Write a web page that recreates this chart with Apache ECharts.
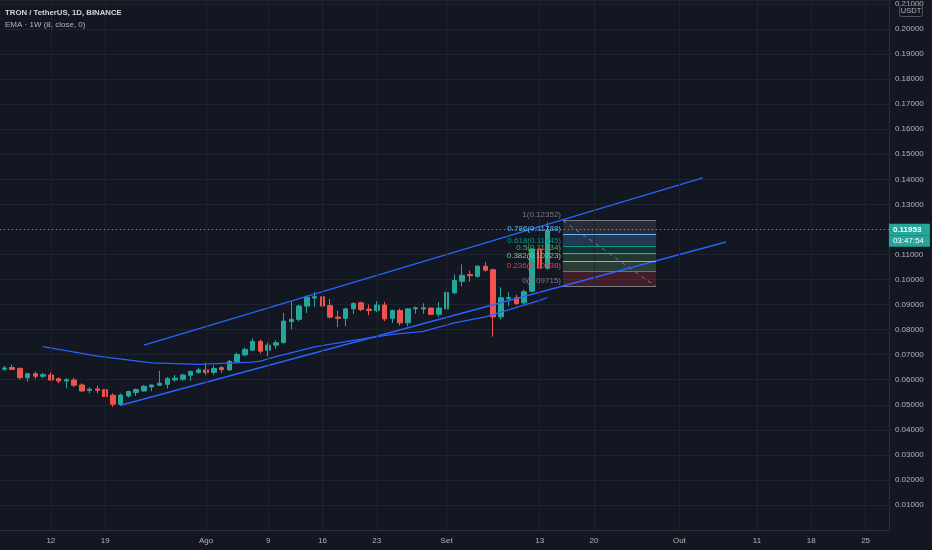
<!DOCTYPE html>
<html><head><meta charset="utf-8">
<script src="https://cdn.jsdelivr.net/npm/echarts@6/dist/echarts.min.js"></script>
<style>html,body{margin:0;padding:0;background:#131722;}#c{width:932px;height:550px;}</style>
</head><body><div id="c"></div>
<script>
// ---- data ----
const candleStart = '2021-07-06';
const opens  = [0.0642,0.0649,0.0645,0.0608,0.0624,0.0614,0.0619,0.0604,0.0595,0.0599,0.0579,0.0557,0.0563,0.0560,0.0538,0.0502,0.0535,0.0549,0.0555,0.0571,0.0578,0.0582,0.0599,0.0602,0.0618,0.0629,0.0639,0.0629,0.0648,0.0639,0.0672,0.0699,0.0718,0.0753,0.0718,0.0738,0.0748,0.0832,0.0841,0.0894,0.0926,0.0931,0.0896,0.0850,0.0845,0.0883,0.0907,0.0882,0.0876,0.0898,0.0845,0.0876,0.0827,0.0883,0.0882,0.0886,0.0861,0.0883,0.0947,0.0993,0.1020,0.1013,0.1053,0.1039,0.0851,0.0923,0.0927,0.0907,0.0953,0.1122,0.1045];
const closes = [0.0647,0.0641,0.0608,0.0624,0.0614,0.0620,0.0599,0.0595,0.0600,0.0578,0.0555,0.0562,0.0558,0.0533,0.0502,0.0539,0.0553,0.0561,0.0574,0.0579,0.0586,0.0604,0.0606,0.0619,0.0633,0.0639,0.0629,0.0645,0.0640,0.0673,0.0701,0.0721,0.0753,0.0714,0.0738,0.0748,0.0834,0.0841,0.0894,0.0929,0.0931,0.0894,0.0850,0.0845,0.0883,0.0904,0.0880,0.0876,0.0898,0.0843,0.0876,0.0827,0.0883,0.0887,0.0887,0.0861,0.0886,0.0949,0.0996,0.1017,0.1015,0.1053,0.1037,0.0851,0.0927,0.0928,0.0904,0.0951,0.1122,0.1045,0.11953];
const lows   = [0.0636,0.0639,0.0600,0.0592,0.0603,0.0606,0.0595,0.0586,0.0566,0.0570,0.0553,0.0546,0.0546,0.0531,0.0491,0.0495,0.0529,0.0535,0.0553,0.0554,0.0575,0.0565,0.0592,0.0595,0.0595,0.0624,0.0619,0.0619,0.0626,0.0636,0.0668,0.0694,0.0717,0.0705,0.0694,0.0724,0.0745,0.0801,0.0833,0.0867,0.0890,0.0878,0.0845,0.0810,0.0814,0.0862,0.0874,0.0858,0.0870,0.0834,0.0827,0.0817,0.0814,0.0863,0.0863,0.0858,0.0851,0.0870,0.0941,0.0973,0.0991,0.1007,0.1032,0.0772,0.0841,0.0894,0.0898,0.0900,0.0949,0.1033,0.1040];
const highs  = [0.0655,0.0661,0.0649,0.0626,0.0632,0.0627,0.0629,0.0609,0.0606,0.0608,0.0586,0.0570,0.0576,0.0563,0.0546,0.0545,0.0557,0.0565,0.0579,0.0582,0.0635,0.0611,0.0619,0.0624,0.0636,0.0648,0.0668,0.0657,0.0655,0.0679,0.0708,0.0728,0.0765,0.0761,0.0748,0.0758,0.0867,0.0912,0.0900,0.0937,0.0951,0.0964,0.0923,0.0876,0.0887,0.0910,0.0911,0.0900,0.0914,0.0911,0.0880,0.0884,0.0886,0.0892,0.0905,0.0887,0.0910,0.0953,0.1020,0.1060,0.1036,0.1057,0.1070,0.1043,0.0969,0.0949,0.0939,0.0960,0.1125,0.1137,0.1228];

const emaDates  = ['2021-07-11','2021-07-18','2021-07-25','2021-07-31','2021-08-07','2021-08-08','2021-08-10','2021-08-15','2021-08-20','2021-08-25','2021-08-29','2021-09-02','2021-09-06','2021-09-13','2021-09-14'];
const emaValues = [0.0732,0.0694,0.0667,0.0661,0.0670,0.0674,0.0692,0.0731,0.0757,0.0781,0.0793,0.0827,0.0851,0.0917,0.0928];

const upperChannelDates  = ['2021-07-24','2021-10-04'];
const upperChannelValues = [0.0738,0.1406];
const lowerChannelDates  = ['2021-07-21','2021-10-07'];
const lowerChannelValues = [0.0498,0.1150];

const fibDates  = ['2021-09-16','2021-09-28'];
const fibLevels = [1,0.786,0.618,0.5,0.382,0.236,0];
const fibPrices = [0.12352,0.11788,0.11345,0.11034,0.10723,0.10338,0.09715];
const fibColors = ['#787b86','#64b5f6','#089981','#4caf50','#81c784','#f23645','#787b86'];

const tickDates  = ['2021-07-12','2021-07-19','2021-08-01','2021-08-09','2021-08-16','2021-08-23','2021-09-01','2021-09-13','2021-09-20','2021-10-01','2021-10-11','2021-10-18','2021-10-25'];
const tickLabels = ['12','19','Ago','9','16','23','Set','13','20','Out','11','18','25'];

const lastPrice = 0.11953;
const countdown = '03:47:54';

// visible day range (in days from candleStart)
const xMinDay = -0.554;
const xMaxDay = 114.0;

// ---- build ----
const t0 = Date.parse(candleStart+'T00:00:00Z');
const dayIdx = d => Math.round((Date.parse(d+'T00:00:00Z') - t0)/86400000);
const candleData = opens.map((o,k)=>[k,o,closes[k],lows[k],highs[k]]);
const tickIdx = tickDates.map(dayIdx);
const labelByIdx = {}; tickIdx.forEach((v,i)=>labelByIdx[v]=tickLabels[i]);

const hexA = (hex,a)=>{const n=parseInt(hex.slice(1),16);return `rgba(${n>>16&255},${n>>8&255},${n&255},${a})`;};
const fx0 = dayIdx(fibDates[0]), fx1 = dayIdx(fibDates[1]);
const fibLines = fibLevels.map((lv,i)=>[
  {name: lv+'('+fibPrices[i].toFixed(5)+')', coord:[fx0,fibPrices[i]], lineStyle:{color:fibColors[i]}, label:{color:fibColors[i]}},
  {coord:[fx1,fibPrices[i]]}
]);
const fibAreas = [];
for(let i=0;i<fibLevels.length-1;i++){
  fibAreas.push([{coord:[fx0,fibPrices[i]], itemStyle:{color:hexA(fibColors[i],0.22)}},{coord:[fx1,fibPrices[i+1]]}]);
}

const FONT = 'Liberation Sans, Arial, sans-serif';
const GRID = '#1f232d';
const chart = echarts.init(document.getElementById('c'));
chart.setOption({
  backgroundColor:'#131722',
  animation:false,
  title:{text:'TRON / TetherUS, 1D, BINANCE', subtext:'EMA · 1W (8, close, 0)', left:5, top:9, itemGap:4, padding:0,
    textStyle:{color:'#d1d4dc',fontSize:7.8,fontWeight:'bold',fontFamily:FONT},
    subtextStyle:{color:'#b2b5be',fontSize:8,fontFamily:FONT}},
  grid:{left:0, right:43.1, top:0, bottom:20, containLabel:false},
  xAxis:{type:'value', min:xMinDay, max:xMaxDay,
    axisLine:{show:true,onZero:false,lineStyle:{color:'#2a2e39'}}, axisTick:{show:false},
    axisLabel:{customValues:tickIdx, formatter:v=>labelByIdx[v]||'', color:'#b2b5be', fontSize:8, fontFamily:FONT, margin:7},
    splitLine:{show:false}},
  yAxis:{type:'value', position:'right', min:0, max:0.21158, interval:0.01,
    axisLine:{show:true,onZero:false,lineStyle:{color:'#2a2e39'}}, axisTick:{show:false},
    axisLabel:{color:'#b2b5be', fontSize:8, fontFamily:FONT, margin:6,
      formatter:v=>{ if(v<=0) return ''; if(Math.abs(v*100-Math.round(v*100))>1e-6) return ''; return v.toFixed(5);} },
    splitLine:{show:true,lineStyle:{color:GRID,width:1}}},
  graphic:[{type:'group', left:899, top:5, z:100, children:[
    {type:'rect', z:100, shape:{x:0,y:0,width:23,height:11,r:2}, style:{fill:'#131722',stroke:'#50535e',lineWidth:1}},
    {type:'text', z:101, style:{x:11.5,y:5.8,text:'USDT',fill:'#b2b5be',fontSize:7.5,fontFamily:FONT,align:'center',verticalAlign:'middle'}}
  ]}],
  series:[
    {type:'line', name:'vgrid', z:0, data:[], silent:true,
      markLine:{silent:true, symbol:'none', animation:false, label:{show:false},
        lineStyle:{color:GRID,type:'solid',width:1}, data:tickIdx.map(v=>({xAxis:v}))}},
    {type:'line', name:'fib', z:1, data:[],
      markArea:{silent:true, data:fibAreas},
      markLine:{silent:true, symbol:'none', data:fibLines, lineStyle:{type:'solid',width:1},
        label:{show:true, position:'start', formatter:p=>p.name+'\n ', fontSize:8, lineHeight:11, fontFamily:FONT, distance:2}}},
    {type:'line', name:'fibTrend', z:2, data:[[fx0,fibPrices[0]],[fx1,fibPrices[fibPrices.length-1]]],
      showSymbol:false, symbol:'none', lineStyle:{color:'#787b86',width:1,type:[4,4]}},
    {type:'candlestick', name:'TRXUSDT', z:3, data:candleData, encode:{x:0,y:[1,2,3,4]}, barWidth:5,
      itemStyle:{color:'#26a69a',color0:'#ef5350',borderColor:'#26a69a',borderColor0:'#ef5350',borderWidth:1},
      markLine:{silent:true, symbol:'none', data:[{yAxis:lastPrice}],
        lineStyle:{color:'#5a9e97',type:[1,3],width:1},
        label:{show:true, position:'end', distance:0,
          formatter:'{e|}\n{a|'+lastPrice.toFixed(5)+'}\n{b|'+countdown+'}',
          rich:{e:{height:11.5,lineHeight:11.5,fontSize:8},
                a:{color:'#ffffff',fontSize:8,fontWeight:'bold',fontFamily:FONT,height:11.5,lineHeight:11.5,width:37,padding:[0,0,0,4],backgroundColor:'#26a69a'},
                b:{color:'#ffffff',fontSize:8,fontFamily:FONT,height:11.5,lineHeight:11.5,width:37,padding:[0,0,0,4],backgroundColor:'#26a69a'}}}}},
    {type:'line', name:'EMA', z:4, data:emaDates.map((d,i)=>[dayIdx(d),emaValues[i]]), showSymbol:false, symbol:'none',
      lineStyle:{color:'#2962ff',width:1.2}},
    {type:'line', name:'upper', z:4, data:upperChannelDates.map((d,i)=>[dayIdx(d),upperChannelValues[i]]), showSymbol:false, symbol:'none',
      lineStyle:{color:'#2962ff',width:1.4}},
    {type:'line', name:'lower', z:4, data:lowerChannelDates.map((d,i)=>[dayIdx(d),lowerChannelValues[i]]), showSymbol:false, symbol:'none',
      lineStyle:{color:'#2962ff',width:1.4}}
  ]
});
</script></body></html>
